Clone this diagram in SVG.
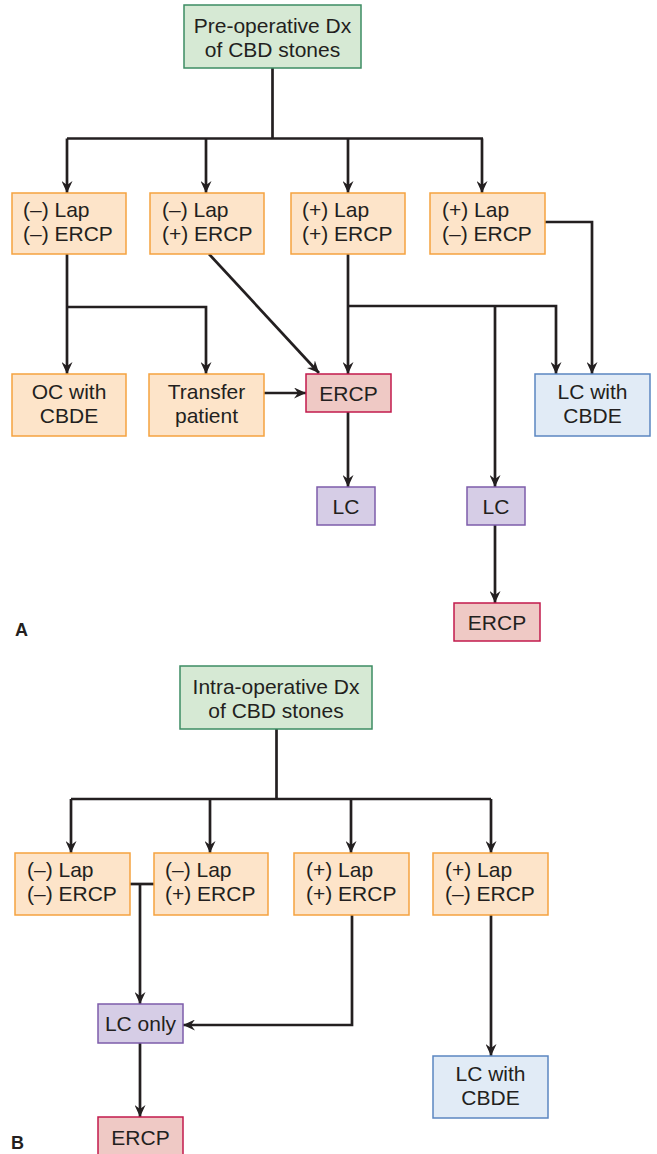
<svg xmlns="http://www.w3.org/2000/svg" width="657" height="1154" viewBox="0 0 657 1154">
<defs>
<marker id="ah" viewBox="0 0 12 11" refX="12" refY="5.5" markerWidth="12" markerHeight="11" markerUnits="userSpaceOnUse" orient="auto">
<path d="M0,0 L12,5.5 L0,11 L4,5.5 z" fill="#231f20"/>
</marker>
<style>
.t{font-family:"Liberation Sans",Arial,sans-serif;font-size:21px;fill:#231f20}
.c{text-anchor:middle}
.lab{font-family:"Liberation Sans",Arial,sans-serif;font-size:18px;font-weight:bold;fill:#231f20}
.g{fill:#d6e9d4;stroke:#3d8c63;stroke-width:1.5}
.o{fill:#fde4c9;stroke:#f5a23f;stroke-width:1.5}
.r{fill:#efc9c5;stroke:#c21a4c;stroke-width:1.5}
.p{fill:#d6cde6;stroke:#7d5caa;stroke-width:1.5}
.b{fill:#e1ebf6;stroke:#5b86c1;stroke-width:1.5}
.ln{fill:none;stroke:#231f20;stroke-width:2.7}
.ar{marker-end:url(#ah)}
</style>
</defs>
<rect width="657" height="1154" fill="#ffffff"/>

<g id="connectors">
<!-- Part A -->
<path class="ln" d="M272.5,68 V138.5"/>
<path class="ln" d="M67,138.5 H483"/>
<path class="ln ar" d="M67,138.5 V193"/>
<path class="ln ar" d="M206,138.5 V193"/>
<path class="ln ar" d="M348,138.5 V193"/>
<path class="ln ar" d="M482,138.5 V193"/>
<path class="ln ar" d="M67,254 V374"/>
<path class="ln ar" d="M67,307 H206 V374"/>
<path class="ln ar" d="M209,254 L319,373"/>
<path class="ln ar" d="M348,254 V374"/>
<path class="ln ar" d="M348,306 H556 V374"/>
<path class="ln ar" d="M495,306 V487"/>
<path class="ln ar" d="M545,222 H592 V374"/>
<path class="ln ar" d="M264,393 H306"/>
<path class="ln ar" d="M348,412 V487"/>
<path class="ln ar" d="M495,525 V603"/>
<!-- Part B -->
<path class="ln" d="M276.5,729 V799"/>
<path class="ln" d="M71,799 H491"/>
<path class="ln ar" d="M71,799 V853"/>
<path class="ln ar" d="M210,799 V853"/>
<path class="ln ar" d="M351,799 V853"/>
<path class="ln ar" d="M491,799 V853"/>
<path class="ln" d="M130,884 H154"/>
<path class="ln ar" d="M140,884 V1004"/>
<path class="ln ar" d="M352,915 V1025 H183"/>
<path class="ln ar" d="M140,1043 V1117"/>
<path class="ln ar" d="M491,915 V1056"/>
</g>

<!-- Part A nodes -->
<g id="a_root"><rect class="g" x="184" y="5" width="177" height="63"/>
<text class="t c" x="272.5" y="33">Pre-operative Dx</text><text class="t c" x="272.5" y="57">of CBD stones</text></g>
<g id="a_nn"><rect class="o" x="12" y="193" width="114" height="61"/>
<text class="t" x="23" y="217">(–) Lap</text><text class="t" x="23" y="241">(–) ERCP</text></g>
<g id="a_np"><rect class="o" x="150" y="193" width="114" height="61"/>
<text class="t" x="162" y="217">(–) Lap</text><text class="t" x="162" y="241">(+) ERCP</text></g>
<g id="a_pp"><rect class="o" x="291" y="193" width="114" height="61"/>
<text class="t" x="302" y="217">(+) Lap</text><text class="t" x="302" y="241">(+) ERCP</text></g>
<g id="a_pn"><rect class="o" x="430" y="193" width="115" height="61"/>
<text class="t" x="442" y="217">(+) Lap</text><text class="t" x="442" y="241">(–) ERCP</text></g>
<g id="a_oc"><rect class="o" x="12" y="374" width="114" height="62"/>
<text class="t c" x="69" y="399">OC with</text><text class="t c" x="69" y="423">CBDE</text></g>
<g id="a_transfer"><rect class="o" x="149" y="374" width="115" height="62"/>
<text class="t c" x="206.5" y="399">Transfer</text><text class="t c" x="206.5" y="423">patient</text></g>
<g id="a_ercp1"><rect class="r" x="306" y="374" width="85" height="38"/>
<text class="t c" x="348.5" y="401">ERCP</text></g>
<g id="a_lccbde"><rect class="b" x="535" y="374" width="115" height="62"/>
<text class="t c" x="592.5" y="399">LC with</text><text class="t c" x="592.5" y="423">CBDE</text></g>
<g id="a_lc1"><rect class="p" x="317" y="487" width="58" height="38"/>
<text class="t c" x="346" y="514">LC</text></g>
<g id="a_lc2"><rect class="p" x="467" y="487" width="58" height="38"/>
<text class="t c" x="496" y="514">LC</text></g>
<g id="a_ercp2"><rect class="r" x="454" y="603" width="86" height="38"/>
<text class="t c" x="497" y="630">ERCP</text></g>
<text class="lab" x="15" y="636">A</text>

<!-- Part B nodes -->
<g id="b_root"><rect class="g" x="180" y="666" width="192" height="63"/>
<text class="t c" x="276" y="694">Intra-operative Dx</text><text class="t c" x="276" y="718">of CBD stones</text></g>
<g id="b_nn"><rect class="o" x="15" y="853" width="115" height="62"/>
<text class="t" x="27" y="877">(–) Lap</text><text class="t" x="27" y="901">(–) ERCP</text></g>
<g id="b_np"><rect class="o" x="154" y="853" width="114" height="62"/>
<text class="t" x="165" y="877">(–) Lap</text><text class="t" x="165" y="901">(+) ERCP</text></g>
<g id="b_pp"><rect class="o" x="294" y="853" width="115" height="62"/>
<text class="t" x="306" y="877">(+) Lap</text><text class="t" x="306" y="901">(+) ERCP</text></g>
<g id="b_pn"><rect class="o" x="433" y="853" width="115" height="62"/>
<text class="t" x="445" y="877">(+) Lap</text><text class="t" x="445" y="901">(–) ERCP</text></g>
<g id="b_lconly"><rect class="p" x="98" y="1004" width="85" height="39"/>
<text class="t c" x="140.5" y="1031">LC only</text></g>
<g id="b_lccbde"><rect class="b" x="433" y="1056" width="115" height="62"/>
<text class="t c" x="490.5" y="1081">LC with</text><text class="t c" x="490.5" y="1105">CBDE</text></g>
<g id="b_ercp"><rect class="r" x="98" y="1117" width="85" height="40"/>
<text class="t c" x="140.5" y="1145">ERCP</text></g>
<text class="lab" x="11" y="1149">B</text>
</svg>
